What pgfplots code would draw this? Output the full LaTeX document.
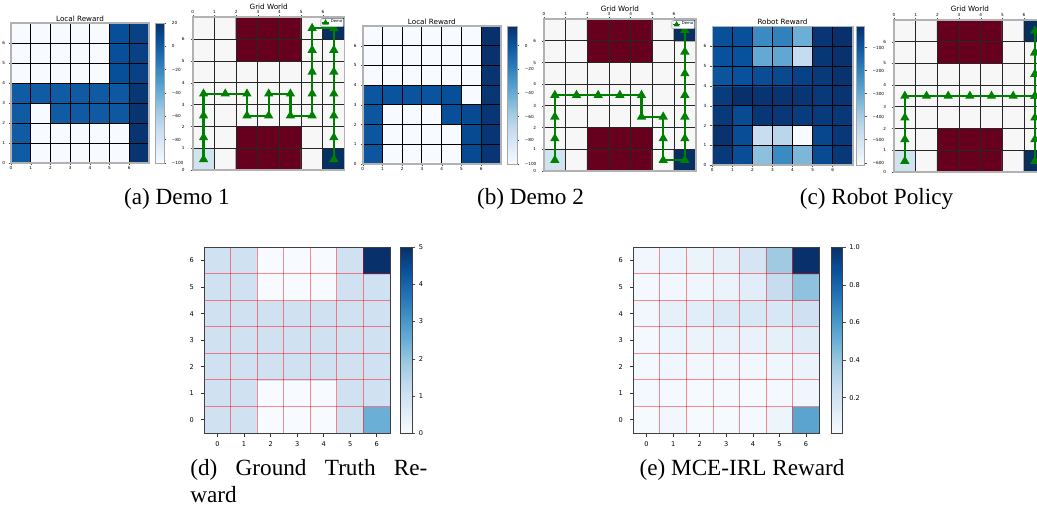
\documentclass[border=0pt]{standalone}
\usepackage{fontspec}
\setmainfont{Liberation Serif}
\newfontfamily\dejavu{DejaVu Sans}
\usepackage{pgfplots}
\usepackage{pgfplotstable}
\pgfplotsset{compat=1.18}
\newcommand\tinyf{\dejavu\fontsize{2.1pt}{2.5pt}\selectfont}
\newcommand\titlef{\dejavu\fontsize{3.6pt}{4.3pt}\selectfont}
\newcommand\botf{\dejavu\fontsize{3.3pt}{4pt}\selectfont}
\newcommand\capf{\fontsize{11.6pt}{13.3pt}\selectfont}
\definecolor{pathgreen}{RGB}{0,128,0}
\pgfplotsset{
  colormap={blues}{rgb255=(247,251,255) rgb255=(222,235,247) rgb255=(198,219,239) rgb255=(158,202,225) rgb255=(107,174,214) rgb255=(66,146,198) rgb255=(33,113,181) rgb255=(8,81,156) rgb255=(8,48,107)},
  colormap={gw}{rgb255=(103,0,31) rgb255=(247,247,247) rgb255=(209,229,240) rgb255=(5,48,97)},
  colorbar shift/.style={},
  every axis title shift=0pt,
  cbs/.style={at={(parent axis.north east)}, anchor=north west, scale only axis,
    xmin=0, xmax=1, xtick=\empty, ytick pos=right, yticklabel pos=right,
    tick align=outside, major tick length=1pt, grid=none,
    axis line style={gray!70,line width=0.4pt}, tick style={black!70,line width=0.2pt},
    title={}, axis on top},
  lr/.style={scale only axis, anchor=north west, xmin=0,xmax=7,ymin=0,ymax=7,
    xtick={0,...,6}, ytick={0,...,6}, tick label style={font=\tinyf},
    xticklabel style={yshift=2.6pt}, yticklabel style={xshift=1.5pt},
    /pgf/number format/assume math mode=true,
    tick style={black!70, line width=0.2pt}, major tick length=1pt, tick align=outside, tick pos=left,
    axis on top, grid=major, major grid style={black, line width=0.5pt},
    axis line style={gray!60, line width=0.8pt}, colormap name=blues,
    title style={font=\titlef, at={(0.5,1)}, anchor=center, yshift=2.2pt, inner sep=0pt}},
  gwst/.style={scale only axis, anchor=north west, xmin=0,xmax=7,ymin=0,ymax=7,
    xtick={0,...,6}, ytick={0,...,6}, tick label style={font=\tinyf},
    xticklabel style={yshift=-2.6pt}, yticklabel style={xshift=0.5pt},
    /pgf/number format/assume math mode=true,
    xtick pos=right, xticklabel pos=right, ytick pos=left,
    tick style={black!70, line width=0.2pt}, major tick length=1pt, tick align=outside,
    axis on top, grid=major, major grid style={black!85, line width=0.5pt},
    axis line style={gray!60, line width=0.8pt}, colormap name=gw,
    point meta min=0, point meta max=3,
    title style={font=\titlef, at={(0.5,1)}, anchor=center, yshift=5.4pt, inner sep=0pt}},
  gwpath/.style={scale only axis, anchor=north west, xmin=0,xmax=7,ymin=0,ymax=7, hide axis,
    legend style={at={(0.99,0.99)}, anchor=north east, font=\dejavu\fontsize{1.9pt}{2.2pt}\selectfont,
      inner sep=0.25pt, outer sep=0pt, draw=gray!50, fill=white, rounded corners=0.3pt,
      nodes={inner sep=0.25pt}, column sep=0.3pt},
    legend image code/.code={\draw[mark repeat=2,mark phase=2, mark size=1pt, line width=0.8pt] plot coordinates {(0cm,0cm) (0.06cm,0cm) (0.12cm,0cm)};}},
  path/.style={pathgreen, line width=1.1pt, mark=triangle*, mark size=1.6pt, mark options={solid}},
  bot/.style={scale only axis, anchor=north west, xmin=-0.5,xmax=6.5,ymin=-0.5,ymax=6.5,
    xtick={0,...,6}, ytick={0,...,6}, tick label style={font=\botf},
    xticklabel style={yshift=0.8pt},
    /pgf/number format/assume math mode=true,
    minor xtick={0.5,1.5,...,5.5}, minor ytick={0.5,1.5,...,5.5},
    xminorgrids, yminorgrids, minor grid style={red, opacity=0.45, line width=0.5pt},
    minor tick length=0pt, major tick length=1.75pt, tick align=outside, tick pos=left,
    tick style={black!80, line width=0.3pt},
    axis on top, axis line style={black!75, line width=0.5pt}, colormap name=blues},
}
\pgfplotstableread{
x y c
0.5 0.5 2
1.5 0.5 1
2.5 0.5 0
3.5 0.5 0
4.5 0.5 0
5.5 0.5 1
6.5 0.5 3
0.5 1.5 1
1.5 1.5 1
2.5 1.5 0
3.5 1.5 0
4.5 1.5 0
5.5 1.5 1
6.5 1.5 1
0.5 2.5 1
1.5 2.5 1
2.5 2.5 1
3.5 2.5 1
4.5 2.5 1
5.5 2.5 1
6.5 2.5 1
0.5 3.5 1
1.5 3.5 1
2.5 3.5 1
3.5 3.5 1
4.5 3.5 1
5.5 3.5 1
6.5 3.5 1
0.5 4.5 1
1.5 4.5 1
2.5 4.5 1
3.5 4.5 1
4.5 4.5 1
5.5 4.5 1
6.5 4.5 1
0.5 5.5 1
1.5 5.5 1
2.5 5.5 0
3.5 5.5 0
4.5 5.5 0
5.5 5.5 1
6.5 5.5 1
0.5 6.5 1
1.5 6.5 1
2.5 6.5 0
3.5 6.5 0
4.5 6.5 0
5.5 6.5 1
6.5 6.5 3
}\gwtable
\begin{document}
\begin{tikzpicture}
\useasboundingbox (0,0) rectangle (518.5pt,-254pt);

% ---------- (a) Local Reward ----------
\begin{axis}[lr, at={(5.5pt,-11.5pt)}, width=69pt, height=70pt, title={Local Reward},
  point meta min=-100, point meta max=20, colorbar,
  colorbar style={cbs, xshift=3pt, width=4.5pt, height=70pt, ymin=-100, ymax=20,
    ytick={20,0,-20,-40,-60,-80,-100}, yticklabels={20,0,−20,−40,−60,−80,−100},
    yticklabel style={font=\tinyf, xshift=-0.6pt}}]
\addplot[matrix plot*, mesh/cols=7, point meta=explicit] table[meta=c]{
x y c
0.5 0.5 0
1.5 0.5 -100
2.5 0.5 -100
3.5 0.5 -100
4.5 0.5 -100
5.5 0.5 -100
6.5 0.5 18
0.5 1.5 0
1.5 1.5 -100
2.5 1.5 -100
3.5 1.5 -100
4.5 1.5 -100
5.5 1.5 -100
6.5 1.5 18
0.5 2.5 0
1.5 2.5 -100
2.5 2.5 0
3.5 2.5 1
4.5 2.5 1
5.5 2.5 2
6.5 2.5 18
0.5 3.5 0
1.5 3.5 0
2.5 3.5 0
3.5 3.5 1
4.5 3.5 1
5.5 3.5 2
6.5 3.5 17
0.5 4.5 -100
1.5 4.5 -100
2.5 4.5 -100
3.5 4.5 -100
4.5 4.5 -100
5.5 4.5 6
6.5 4.5 12
0.5 5.5 -100
1.5 5.5 -100
2.5 5.5 -100
3.5 5.5 -100
4.5 5.5 -100
5.5 5.5 6
6.5 5.5 12
0.5 6.5 -100
1.5 6.5 -100
2.5 6.5 -100
3.5 6.5 -100
4.5 6.5 -100
5.5 6.5 6
6.5 6.5 12
};
\end{axis}

% ---------- (a) Grid World ----------
\begin{axis}[gwst, at={(96.35pt,-8.65pt)}, width=76pt, height=76.5pt, title={Grid World}]
\addplot[matrix plot*, mesh/cols=7, point meta=explicit] table[meta=c]{\gwtable};
\end{axis}
\begin{axis}[gwpath, at={(96.35pt,-8.65pt)}, width=76pt, height=76.5pt]
\addplot[path] coordinates {(0.5,0.5)(0.5,1.5)(0.5,2.5)(0.5,3.5)(1.5,3.5)(2.5,3.5)(2.5,2.5)(3.5,2.5)(3.5,3.5)(4.5,3.5)(4.5,2.5)(5.5,2.5)(5.5,3.5)(5.5,4.5)(5.5,5.5)(5.5,6.5)(6.5,6.5)(6.5,5.5)(6.5,4.5)(6.5,3.5)(6.5,2.5)(6.5,1.5)(6.5,0.5)};
\addlegendentry{Demo}
\end{axis}

% ---------- (b) Local Reward ----------
\begin{axis}[lr, at={(181.35pt,-13pt)}, width=69.15pt, height=69pt, title={Local Reward},
  point meta min=-100, point meta max=16.6, colorbar,
  colorbar style={cbs, xshift=3pt, width=5pt, height=69pt, ymin=-100, ymax=16.6,
    ytick={0,-20,-40,-60,-80,-100}, yticklabels={0,−20,−40,−60,−80,−100},
    yticklabel style={font=\tinyf, xshift=-0.6pt}}]
\addplot[matrix plot*, mesh/cols=7, point meta=explicit] table[meta=c]{
x y c
0.5 0.5 0
1.5 0.5 -100
2.5 0.5 -100
3.5 0.5 -100
4.5 0.5 -100
5.5 0.5 5
6.5 0.5 14
0.5 1.5 0
1.5 1.5 -100
2.5 1.5 -100
3.5 1.5 -100
4.5 1.5 -100
5.5 1.5 5
6.5 1.5 14
0.5 2.5 0
1.5 2.5 -100
2.5 2.5 -100
3.5 2.5 -100
4.5 2.5 3
5.5 2.5 5
6.5 2.5 14
0.5 3.5 0
1.5 3.5 1
2.5 3.5 1
3.5 3.5 1
4.5 3.5 3
5.5 3.5 -100
6.5 3.5 14
0.5 4.5 -100
1.5 4.5 -100
2.5 4.5 -100
3.5 4.5 -100
4.5 4.5 -100
5.5 4.5 -100
6.5 4.5 15
0.5 5.5 -100
1.5 5.5 -100
2.5 5.5 -100
3.5 5.5 -100
4.5 5.5 -100
5.5 5.5 -100
6.5 5.5 16
0.5 6.5 -100
1.5 6.5 -100
2.5 6.5 -100
3.5 6.5 -100
4.5 6.5 -100
5.5 6.5 -100
6.5 6.5 16.6
};
\end{axis}

% ---------- (b) Grid World ----------
\begin{axis}[gwst, at={(272pt,-9.65pt)}, width=75.85pt, height=75.85pt, title={Grid World}]
\addplot[matrix plot*, mesh/cols=7, point meta=explicit] table[meta=c]{\gwtable};
\end{axis}
\begin{axis}[gwpath, at={(272pt,-9.65pt)}, width=75.85pt, height=75.85pt]
\addplot[path] coordinates {(0.5,0.5)(0.5,1.5)(0.5,2.5)(0.5,3.5)(1.5,3.5)(2.5,3.5)(3.5,3.5)(4.5,3.5)(4.5,2.5)(5.5,2.5)(5.5,1.5)(5.5,0.5)(6.5,0.5)(6.5,1.5)(6.5,2.5)(6.5,3.5)(6.5,4.5)(6.5,5.5)(6.5,6.5)};
\addlegendentry{Demo}
\end{axis}

% ---------- (c) Robot Reward ----------
\begin{axis}[lr, at={(356.15pt,-13.35pt)}, width=70.2pt, height=69.15pt, title={Robot Reward},
  point meta min=-610, point meta max=-9, colorbar,
  colorbar style={cbs, xshift=2pt, width=4pt, height=69.15pt, ymin=-610, ymax=-9,
    ytick={-100,-200,-300,-400,-500,-600}, yticklabels={−100,−200,−300,−400,−500,−600},
    yticklabel style={font=\tinyf, xshift=-0.6pt}}]
\addplot[matrix plot*, mesh/cols=7, point meta=explicit] table[meta=c]{
x y c
0.5 0.5 -30
1.5 0.5 -75
2.5 0.5 -358
3.5 0.5 -219
4.5 0.5 -334
5.5 0.5 -70
6.5 0.5 -28
0.5 1.5 -15
1.5 1.5 -75
2.5 1.5 -470
3.5 1.5 -436
4.5 1.5 -610
5.5 1.5 -60
6.5 1.5 -28
0.5 2.5 -30
1.5 2.5 -70
2.5 2.5 -25
3.5 2.5 -28
4.5 2.5 -35
5.5 2.5 -33
6.5 2.5 -28
0.5 3.5 -35
1.5 3.5 -9
2.5 3.5 -20
3.5 3.5 -18
4.5 3.5 -22
5.5 3.5 -30
6.5 3.5 -20
0.5 4.5 -93
1.5 4.5 -85
2.5 4.5 -75
3.5 4.5 -65
4.5 4.5 -50
5.5 4.5 -30
6.5 4.5 -15
0.5 5.5 -85
1.5 5.5 -85
2.5 5.5 -297
3.5 5.5 -290
4.5 5.5 -460
5.5 5.5 -25
6.5 5.5 -12
0.5 6.5 -81
1.5 6.5 -81
2.5 6.5 -219
3.5 6.5 -195
4.5 6.5 -310
5.5 6.5 -21
6.5 6.5 -9
};
\end{axis}

% ---------- (c) Grid World ----------
\begin{axis}[gwst, at={(447pt,-10pt)}, width=75.85pt, height=76pt, title={Grid World}]
\addplot[matrix plot*, mesh/cols=7, point meta=explicit] table[meta=c]{\gwtable};
\end{axis}
\begin{axis}[gwpath, at={(447pt,-10pt)}, width=75.85pt, height=76pt]
\addplot[path] coordinates {(0.5,0.5)(0.5,1.5)(0.5,2.5)(0.5,3.5)(1.5,3.5)(2.5,3.5)(3.5,3.5)(4.5,3.5)(5.5,3.5)(6.5,3.5)(6.5,4.5)(6.5,5.5)(6.5,6.5)(6.5,5.5)(6.5,4.5)(6.5,3.5)(6.5,2.5)(6.5,1.5)(6.5,0.5)};
\end{axis}

% ---------- (d) Ground Truth Reward ----------
\begin{axis}[bot, at={(102.15pt,-123.65pt)}, width=92.85pt, height=92.85pt,
  point meta min=0, point meta max=5, colorbar,
  colorbar style={cbs, xshift=5.35pt, width=5.6pt, height=92.85pt, ymin=0, ymax=5,
    ytick={0,1,2,3,4,5}, yticklabels={0,1,2,3,4,5}, major tick length=1.75pt,
    axis line style={black!75,line width=0.4pt},
    yticklabel style={font=\botf, xshift=-1.8pt}}]
\addplot[matrix plot*, mesh/cols=7, point meta=explicit] table[meta=c]{
x y c
0 0 1
1 0 1
2 0 0
3 0 0
4 0 0
5 0 1
6 0 2.5
0 1 1
1 1 1
2 1 0
3 1 0
4 1 0
5 1 1
6 1 1
0 2 1
1 2 1
2 2 1
3 2 1
4 2 1
5 2 1
6 2 1
0 3 1
1 3 1
2 3 1
3 3 1
4 3 1
5 3 1
6 3 1
0 4 1
1 4 1
2 4 1
3 4 1
4 4 1
5 4 1
6 4 1
0 5 1
1 5 1
2 5 0
3 5 0
4 5 0
5 5 1
6 5 1
0 6 1
1 6 1
2 6 0
3 6 0
4 6 0
5 6 1
6 6 5
};
\end{axis}

% ---------- (e) MCE-IRL Reward ----------
\begin{axis}[bot, at={(316.65pt,-123.65pt)}, width=93pt, height=92.85pt,
  point meta min=0.012, point meta max=1, colorbar,
  colorbar style={cbs, xshift=6.2pt, width=5.3pt, height=92.85pt, ymin=0.012, ymax=1,
    ytick={0.2,0.4,0.6,0.8,1.0}, yticklabels={0.2,0.4,0.6,0.8,1.0}, major tick length=1.75pt,
    axis line style={black!75,line width=0.4pt},
    yticklabel style={font=\botf, xshift=-1.8pt}}]
\addplot[matrix plot*, mesh/cols=7, point meta=explicit] table[meta=c]{
x y c
0 0 0.02
1 0 0.04
2 0 0.02
3 0 0.02
4 0 0.03
5 0 0.06
6 0 0.55
0 1 0.03
1 1 0.03
2 1 0.02
3 1 0.02
4 1 0.02
5 1 0.03
6 1 0.05
0 2 0.03
1 2 0.05
2 2 0.04
3 2 0.04
4 2 0.04
5 2 0.05
6 2 0.07
0 3 0.03
1 3 0.06
2 3 0.07
3 3 0.08
4 3 0.08
5 3 0.10
6 3 0.13
0 4 0.04
1 4 0.10
2 4 0.12
3 4 0.15
4 4 0.16
5 4 0.17
6 4 0.22
0 5 0.03
1 5 0.04
2 5 0.05
3 5 0.07
4 5 0.12
5 5 0.25
6 5 0.42
0 6 0.04
1 6 0.06
2 6 0.07
3 6 0.10
4 6 0.18
5 6 0.38
6 6 1.0
};
\end{axis}

% ---------- captions ----------
\node[anchor=base, inner sep=0pt, font=\capf] at (88.5pt,-102.3pt) {(a) Demo 1};
\node[anchor=base, inner sep=0pt, font=\capf] at (265.25pt,-102.3pt) {(b) Demo 2};
\node[anchor=base, inner sep=0pt, font=\capf] at (438.25pt,-102.3pt) {(c) Robot Policy};
\node[anchor=base west, inner sep=0pt, font=\capf] at (95pt,-237.8pt) {\makebox[118.5pt][s]{(d) Ground Truth Re-}};
\node[anchor=base west, inner sep=0pt, font=\capf] at (95pt,-251.2pt) {ward};
\node[anchor=base, inner sep=0pt, font=\capf] at (371pt,-237.8pt) {(e) MCE-IRL Reward};
\end{tikzpicture}
\end{document}
